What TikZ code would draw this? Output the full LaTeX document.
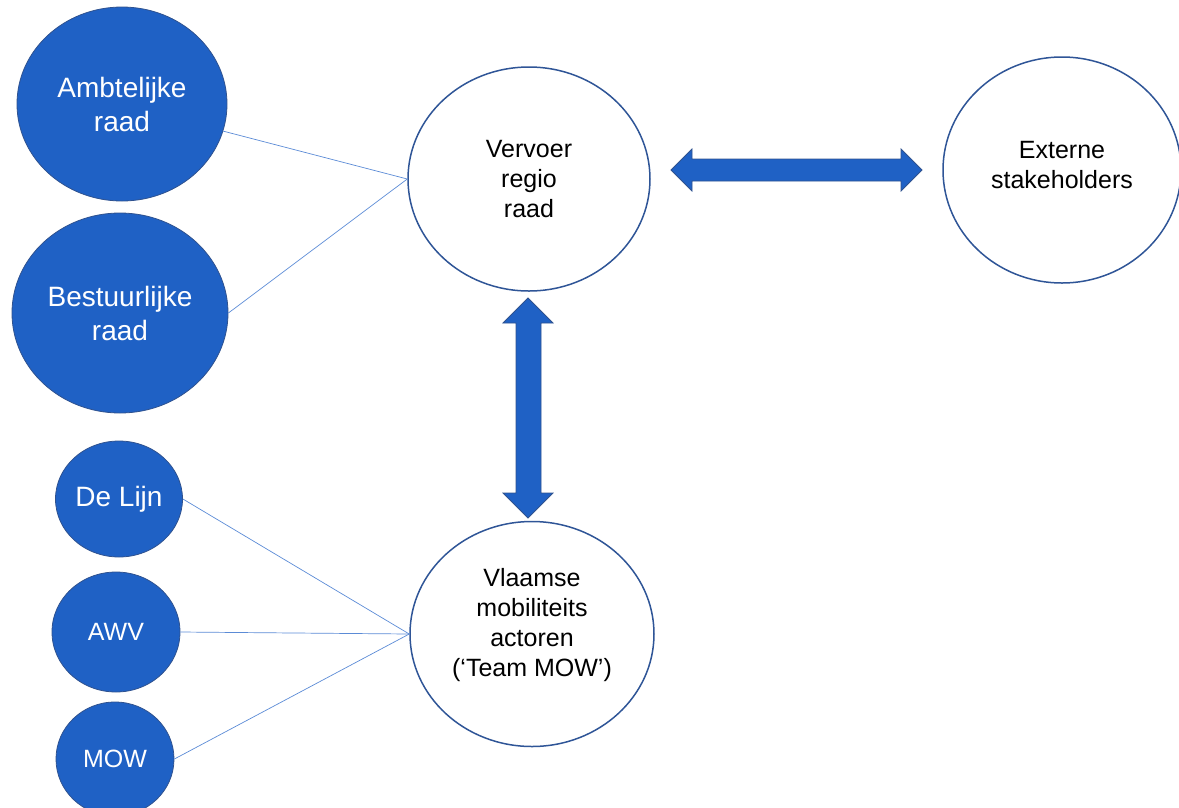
\documentclass[tikz,border=0pt]{standalone}
\usepackage{fontspec}
\setmainfont{Liberation Sans}
\usetikzlibrary{shapes.geometric}
\definecolor{fillblue}{RGB}{31,97,197}
\definecolor{edgeblue}{RGB}{47,82,143}
\definecolor{ringblue}{RGB}{47,85,151}
\definecolor{linkblue}{RGB}{91,139,214}
\tikzset{
  bluebub/.style={ellipse, draw=edgeblue, line width=0.8pt, fill=fillblue, text=white, align=center, inner sep=0pt},
  whitebub/.style={ellipse, draw=ringblue, line width=1.5pt, fill=white, text=black, align=center, inner sep=0pt},
  label text/.style={align=center, text=black, inner sep=0pt},
  link/.style={draw=linkblue, line width=0.7pt},
  blockarrow/.style={fill=fillblue, draw=edgeblue, line width=0.8pt, line join=miter},
  bigtxt/.style={font=\fontsize{28}{34}\selectfont},
  midtxt/.style={font=\fontsize{25}{30}\selectfont}
}
\begin{document}
\begin{tikzpicture}[x=1pt,y=-1pt]
\useasboundingbox (0,0) rectangle (1179,807);
\clip (0,0) rectangle (1179,807);
% blue bubbles
\node[bluebub, bigtxt, minimum width=210pt, minimum height=194pt] (amb) at (122,104) {Ambtelijke\\raad};
\node[bluebub, bigtxt, minimum width=216pt, minimum height=200pt] (bes) at (120,313) {Bestuurlijke\\raad};
\node[bluebub, bigtxt, minimum width=127pt, minimum height=116pt] (dl) at (119,499) {De Lijn};
\node[bluebub, midtxt, minimum width=128pt, minimum height=120pt] (awv) at (116,632) {AWV};
\node[bluebub, midtxt, minimum width=118pt, minimum height=114pt] (mow) at (115,759) {MOW};
% white bubbles
\node[whitebub, minimum width=242pt, minimum height=224pt] (ver) at (529,179) {};
\node[label text, midtxt] (vertxt) at ([yshift=0pt]ver.center) {Vervoer\\regio\\raad};
\node[whitebub, minimum width=238pt, minimum height=226pt] (ext) at (1062,170) {};
\node[label text, midtxt] (exttxt) at ([yshift=5pt]ext.center) {Externe\\stakeholders};
\node[whitebub, minimum width=244pt, minimum height=225pt] (vl) at (532,634) {};
\node[label text, midtxt] (vltxt) at ([yshift=9pt]vl.center) {Vlaamse\\mobiliteits\\actoren\\(‘Team MOW’)};
% thin links
\draw[link] (amb.-15) -- (ver.west);
\draw[link] (bes.east) -- (ver.west);
\draw[link] (dl.east) -- (vl.west);
\draw[link] (awv.east) -- (vl.west);
\draw[link] (mow.east) -- (vl.west);
% block double arrows
\coordinate (hl) at (671,170);
\coordinate (hr) at (922,170);
\draw[blockarrow] (hl) -- (692,149) -- (692,159) -- (901,159) -- (901,149) -- (hr) -- (901,191) -- (901,181) -- (692,181) -- (692,191) -- cycle;
\coordinate (vt) at (528,298);
\coordinate (vb) at (528,518);
\draw[blockarrow] (vt) -- (553,323) -- (541,323) -- (541,493) -- (553,493) -- (vb) -- (503,493) -- (516,493) -- (516,323) -- (503,323) -- cycle;
\end{tikzpicture}
\end{document}
